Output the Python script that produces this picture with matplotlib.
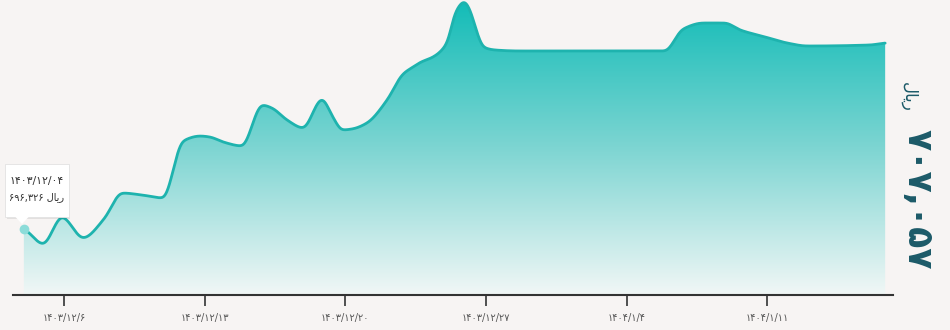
import numpy as np
import matplotlib
matplotlib.use("Agg")
import matplotlib.pyplot as plt
from matplotlib.colors import LinearSegmentedColormap
from matplotlib.patches import FancyBboxPatch, Polygon

# ---- data (day offset from 1403/12/04, price in rial) ----
days = [0.0, 0.96, 1.90, 2.95, 3.99, 4.89, 5.88, 6.93, 7.92, 8.77, 9.27, 9.92,
        10.86, 11.86, 12.35, 13.10, 13.90, 14.84, 15.38, 15.84, 16.34, 17.08,
        18.08, 18.87, 19.37, 19.77, 20.37, 21.07, 21.46, 21.93, 22.21, 22.56,
        22.86, 23.45, 24.70, 31.91, 32.81, 33.81, 34.90, 35.65, 36.90, 37.99,
        38.98, 42.12, 42.87]
prices = [696326, 695460, 697018, 695807, 696903, 698403, 698288, 698115,
          701404, 701692, 701634, 701346, 701115, 703481, 703308, 702615,
          702154, 703827, 702788, 702038, 702096, 702442, 703769, 705270,
          705673, 705962, 706250, 707058, 708789, 709466, 708962, 707635,
          706827, 706654, 706597, 706597, 707866, 708212, 708212, 707808,
          707404, 707058, 706885, 706943, 707057]

tick_days = [2, 9, 16, 23, 30, 37]
tick_labels = ["۱۴۰۳/۱۲/۶", "۱۴۰۳/۱۲/۱۳", "۱۴۰۳/۱۲/۲۰",
               "۱۴۰۳/۱۲/۲۷", "۱۴۰۴/۱/۴", "۱۴۰۴/۱/۱۱"]

tooltip_date = "۱۴۰۳/۱۲/۰۴"
tooltip_price = "۶۹۶,۳۲۶"
last_price = "۷۰۷,۰۵۷"
# "ریال" pre-shaped in visual order (lam, alef-final, yeh-initial, reh)
rial = "\uFEDD\uFE8E\uFEF3\uFEAD"

BG = "#f7f4f3"
LINE = "#1eb3ae"
DARK = "#1c5a68"


def pchip(x, y, xs):
    x = np.asarray(x, float); y = np.asarray(y, float)
    h = np.diff(x); d = np.diff(y) / h
    n = len(x); m = np.zeros(n)
    for k in range(1, n - 1):
        if d[k - 1] * d[k] > 0:
            w1 = 2 * h[k] + h[k - 1]; w2 = h[k] + 2 * h[k - 1]
            m[k] = (w1 + w2) / (w1 / d[k - 1] + w2 / d[k])
    m[0] = d[0] * 0.5; m[-1] = d[-1] * 0.5
    idx = np.clip(np.searchsorted(x, xs) - 1, 0, n - 2)
    t = (xs - x[idx]) / h[idx]
    h00 = 2 * t**3 - 3 * t**2 + 1; h10 = t**3 - 2 * t**2 + t
    h01 = -2 * t**3 + 3 * t**2; h11 = t**3 - t**2
    return (h00 * y[idx] + h10 * h[idx] * m[idx] + h01 * y[idx + 1]
            + h11 * h[idx] * m[idx + 1])


def smooth(xs, ys, sigma):
    dx = xs[1] - xs[0]
    r = int(4 * sigma / dx)
    k = np.exp(-0.5 * (np.arange(-r, r + 1) * dx / sigma) ** 2)
    k /= k.sum()
    pad = np.r_[np.full(r, ys[0]), ys, np.full(r, ys[-1])]
    return np.convolve(pad, k, mode="valid")


fig = plt.figure(figsize=(9.5, 3.3), dpi=100, facecolor=BG)
ax = fig.add_axes([13 / 950, 35 / 330, 880 / 950, 295 / 330])
ax.set_facecolor(BG)
x0, x1 = -0.54, 43.26
y0, y1 = 692518, 709539
ax.set_xlim(x0, x1)
ax.set_ylim(y0, y1)

xs = np.linspace(days[0], days[-1], 2000)
ys = smooth(xs, pchip(days, prices, xs), 0.12)

cmap = LinearSegmentedColormap.from_list("g", ["#f1f7f6", "#7dd5d2", "#12bcb7"])
grad = np.linspace(0, 1, 256).reshape(-1, 1)
im = ax.imshow(grad, cmap=cmap, aspect="auto", origin="lower",
               extent=[x0, x1, y0, y1], zorder=1)
verts = np.column_stack([np.r_[xs, xs[-1], xs[0]], np.r_[ys, y0, y0]])
poly = Polygon(verts, closed=True, facecolor="none", edgecolor="none",
               transform=ax.transData)
ax.add_patch(poly)
im.set_clip_path(poly)
ax.plot(xs, ys, color=LINE, lw=2.0, zorder=3, solid_capstyle="round")
ax.plot([days[0]], [prices[0]], "o", ms=7, color="#8cdcd9", zorder=4,
        markeredgewidth=0)

for s in ["top", "right", "left"]:
    ax.spines[s].set_visible(False)
ax.spines["bottom"].set_color("#333333")
ax.spines["bottom"].set_linewidth(1.5)
ax.set_yticks([])
ax.set_xticks(tick_days)
ax.set_xticklabels(tick_labels, fontsize=7, color="#555555",
                   family=["DejaVu Sans"])
ax.tick_params(axis="x", direction="out", length=8, width=1.2,
               color="#333333", pad=5)

# tooltip
shadow = FancyBboxPatch((7 / 950, 1 - 219 / 330), 63 / 950, 53 / 330,
                        boxstyle="square,pad=0", transform=fig.transFigure,
                        facecolor="#00000014", edgecolor="none", zorder=9)
fig.patches.append(shadow)
tb = FancyBboxPatch((5 / 950, 1 - 217 / 330), 64 / 950, 53 / 330,
                    boxstyle="square,pad=0", transform=fig.transFigure,
                    facecolor="white", edgecolor="#e2e2e2", lw=0.6, zorder=10)
fig.patches.append(tb)
tri = Polygon([[15 / 950, 1 - 216.5 / 330], [29 / 950, 1 - 216.5 / 330],
               [22 / 950, 1 - 224 / 330]], closed=True,
              transform=fig.transFigure, facecolor="white", edgecolor="none",
              zorder=11)
fig.patches.append(tri)
fig.text(37 / 950, 1 - 181 / 330, tooltip_date, fontsize=7.8, color="#333333",
         ha="center", va="center", zorder=12, family=["DejaVu Sans"])
fig.text(37 / 950, 1 - 197 / 330, tooltip_price + " " + rial, fontsize=7,
         color="#333333", ha="center", va="center", zorder=12,
         family=["DejaVu Sans"])

# right label
fig.text(917 / 950, 1 - 199 / 330, last_price, fontsize=25, fontweight="bold",
         color=DARK, rotation=-90, ha="center", va="center",
         family=["DejaVu Sans"])
fig.text(909 / 950, 1 - 97 / 330, rial, fontsize=12, color=DARK,
         rotation=-90, ha="center", va="center", family=["DejaVu Sans"])

fig.savefig("out.png", dpi=100, facecolor=BG)
